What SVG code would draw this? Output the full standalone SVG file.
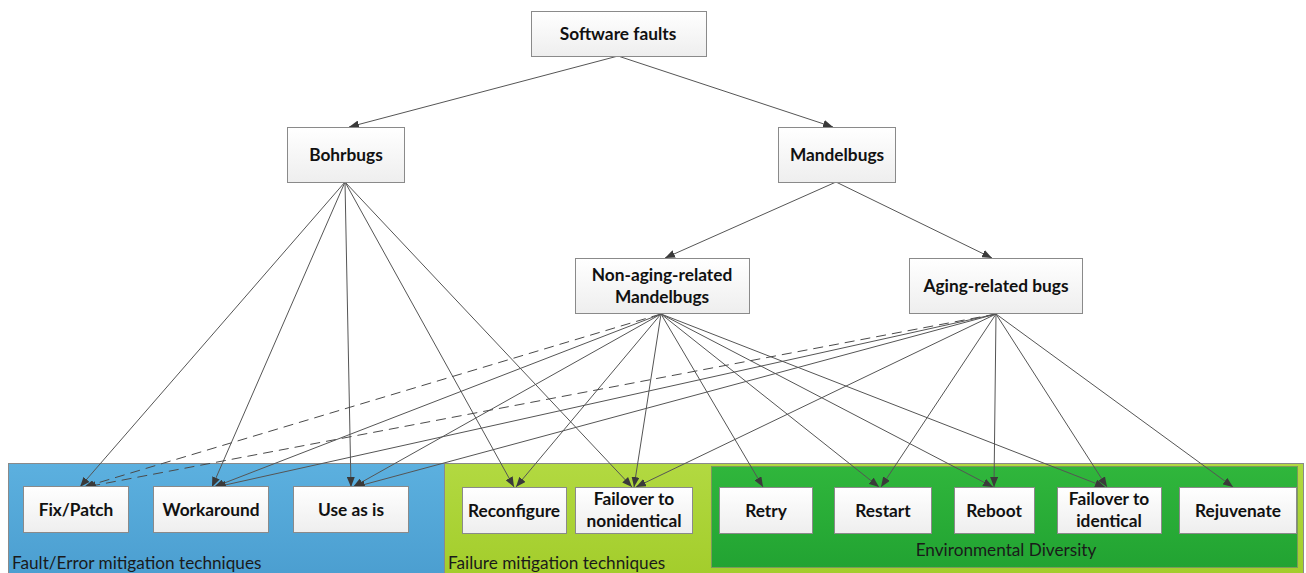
<svg xmlns="http://www.w3.org/2000/svg" width="1306" height="573" viewBox="0 0 1306 573">
<defs>
<linearGradient id="nodeGrad" x1="0" y1="0" x2="0" y2="1">
<stop offset="0" stop-color="#ffffff"/>
<stop offset="1" stop-color="#eeeeee"/>
</linearGradient>
<linearGradient id="blueGrad" x1="0" y1="0" x2="0" y2="1">
<stop offset="0" stop-color="#5cb0df"/>
<stop offset="1" stop-color="#4a9dcf"/>
</linearGradient>
<linearGradient id="limeGrad" x1="0" y1="0" x2="0" y2="1">
<stop offset="0" stop-color="#b2d941"/>
<stop offset="1" stop-color="#a2cc2a"/>
</linearGradient>
<linearGradient id="greenGrad" x1="0" y1="0" x2="0" y2="1">
<stop offset="0" stop-color="#30b63c"/>
<stop offset="1" stop-color="#22a332"/>
</linearGradient>
<marker id="arr" markerUnits="userSpaceOnUse" markerWidth="10" markerHeight="8" refX="10" refY="4" orient="auto">
<path d="M0,0 L10,4 L0,8 z" fill="#3a3a3a"/>
</marker>
</defs>
<style>
.node rect{fill:url(#nodeGrad);stroke:#8a8a8a;stroke-width:1}
.node text{font-family:Lato,"Open Sans","Liberation Sans",sans-serif;font-weight:bold;font-size:17.3px;fill:#111;text-anchor:middle}
.edges line{stroke:#555;stroke-width:1;marker-end:url(#arr)}
.edges line.dash{stroke-dasharray:10,6;stroke:#4a4a4a}
.glabel{font-family:Lato,"Open Sans","Liberation Sans",sans-serif;font-size:17.2px;fill:#1a1a1a}
</style>
<rect width="1306" height="573" fill="#ffffff"/>

<g id="group-fault-error">
<rect x="8.5" y="463.5" width="436" height="120" fill="url(#blueGrad)" stroke="#8a8a8a"/>
<text class="glabel" x="12" y="569">Fault/Error mitigation techniques</text>
</g>
<g id="group-failure">
<rect x="444.5" y="463.5" width="859" height="120" fill="url(#limeGrad)" stroke="#8a8a8a"/>
<text class="glabel" x="448" y="569">Failure mitigation techniques</text>
</g>
<g id="group-environmental">
<rect x="711.5" y="466.5" width="586" height="101" fill="url(#greenGrad)" stroke="#7c9a5a"/>
<text class="glabel" x="1006" y="556" text-anchor="middle" fill="#1d3a1d">Environmental Diversity</text>
</g>

<g class="edges" id="connectors">
<line x1="618" y1="56" x2="349" y2="127"/>
<line x1="618" y1="56" x2="833" y2="127"/>
<line x1="836" y1="182" x2="665" y2="258"/>
<line x1="836" y1="182" x2="992" y2="258"/>
<!-- Bohrbugs -->
<line x1="345" y1="182" x2="80" y2="487"/>
<line x1="345" y1="182" x2="212" y2="487"/>
<line x1="345" y1="182" x2="351" y2="487"/>
<line x1="345" y1="182" x2="514" y2="487"/>
<line x1="345" y1="182" x2="632" y2="487"/>
<!-- Non-aging -->
<line class="dash" x1="661" y1="314" x2="84" y2="487"/>
<line x1="661" y1="314" x2="214" y2="487"/>
<line x1="661" y1="314" x2="353" y2="487"/>
<line x1="661" y1="314" x2="516" y2="487"/>
<line x1="661" y1="314" x2="634" y2="487"/>
<line x1="661" y1="314" x2="763" y2="487"/>
<line x1="661" y1="314" x2="879" y2="487"/>
<line x1="661" y1="314" x2="993" y2="487"/>
<line x1="661" y1="314" x2="1105" y2="487"/>
<!-- Aging-related -->
<line class="dash" x1="996" y1="314" x2="86" y2="487"/>
<line x1="996" y1="314" x2="216" y2="487"/>
<line x1="996" y1="314" x2="355" y2="487"/>
<line x1="996" y1="314" x2="636" y2="487"/>
<line x1="996" y1="314" x2="881" y2="487"/>
<line x1="996" y1="314" x2="994" y2="487"/>
<line x1="996" y1="314" x2="1107" y2="487"/>
<line x1="996" y1="314" x2="1233" y2="487"/>
</g>

<g id="node-software-faults" class="node">
<rect x="531.5" y="11.5" width="175" height="45"/>
<text x="618" y="39.5">Software faults</text>
</g>
<g id="node-bohrbugs" class="node">
<rect x="287.5" y="127.5" width="117" height="55"/>
<text x="346" y="161">Bohrbugs</text>
</g>
<g id="node-mandelbugs" class="node">
<rect x="778.5" y="127.5" width="117" height="55"/>
<text x="837" y="161">Mandelbugs</text>
</g>
<g id="node-non-aging" class="node">
<rect x="575.5" y="258.5" width="174" height="55"/>
<text x="662" y="280.5">Non-aging-related</text>
<text x="662" y="302.5">Mandelbugs</text>
</g>
<g id="node-aging" class="node">
<rect x="909.5" y="258.5" width="173" height="55"/>
<text x="996" y="291.5">Aging-related bugs</text>
</g>

<g id="node-fix-patch" class="node">
<rect x="23.5" y="486.5" width="105" height="46"/>
<text x="76" y="515.5">Fix/Patch</text>
</g>
<g id="node-workaround" class="node">
<rect x="153.5" y="486.5" width="115" height="46"/>
<text x="211" y="515.5">Workaround</text>
</g>
<g id="node-use-as-is" class="node">
<rect x="293.5" y="486.5" width="115" height="46"/>
<text x="351" y="515.5">Use as is</text>
</g>
<g id="node-reconfigure" class="node">
<rect x="462.5" y="487.5" width="104" height="46"/>
<text x="514" y="516.5">Reconfigure</text>
</g>
<g id="node-failover-nonidentical" class="node">
<rect x="575.5" y="487.5" width="117" height="46"/>
<text x="634" y="505">Failover to</text>
<text x="634" y="526.5">nonidentical</text>
</g>
<g id="node-retry" class="node">
<rect x="719.5" y="487.5" width="93" height="46"/>
<text x="766" y="516.5">Retry</text>
</g>
<g id="node-restart" class="node">
<rect x="834.5" y="487.5" width="97" height="46"/>
<text x="883" y="516.5">Restart</text>
</g>
<g id="node-reboot" class="node">
<rect x="954.5" y="487.5" width="80" height="46"/>
<text x="994" y="516.5">Reboot</text>
</g>
<g id="node-failover-identical" class="node">
<rect x="1057.5" y="487.5" width="104" height="46"/>
<text x="1109" y="505">Failover to</text>
<text x="1109" y="526.5">identical</text>
</g>
<g id="node-rejuvenate" class="node">
<rect x="1179.5" y="487.5" width="117" height="46"/>
<text x="1238" y="516.5">Rejuvenate</text>
</g>
</svg>
